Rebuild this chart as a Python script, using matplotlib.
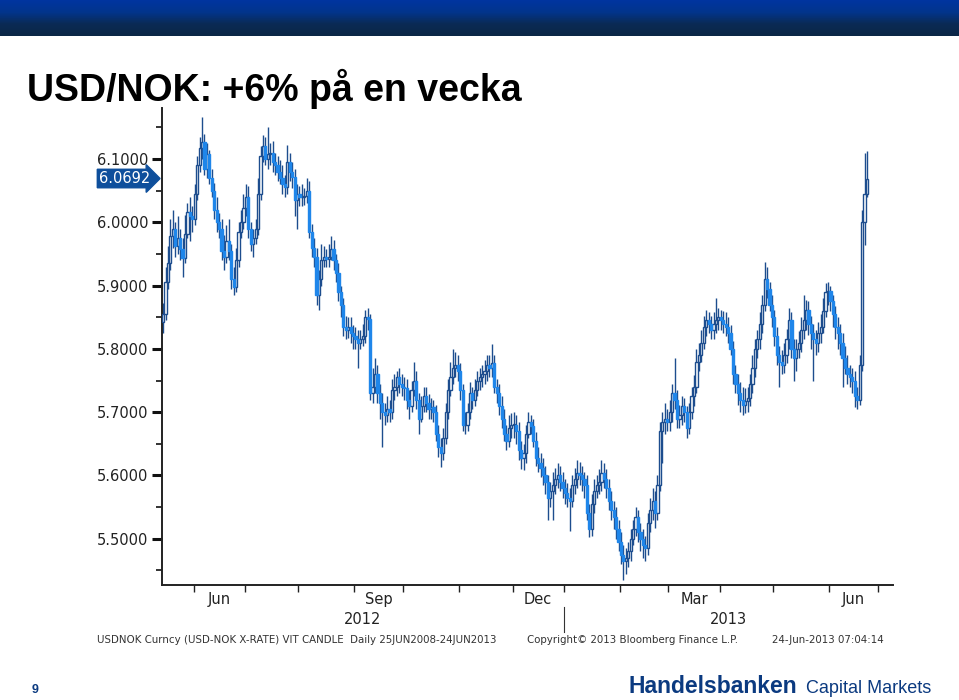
import numpy as np
import pandas as pd
import matplotlib
matplotlib.use("Agg")
import matplotlib.pyplot as plt
import matplotlib.transforms as mtrans
import matplotlib.ticker as mtick
from matplotlib.colors import LinearSegmentedColormap

# daily USD/NOK candles, 15 May 2012 .. 24 Jun 2013 (business days)
start_date = "2012-05-15"

open_ = [
    5.842, 5.855, 5.905, 5.935, 5.978, 5.990, 5.962, 5.975, 5.958, 5.944,
    5.982, 6.016, 6.010, 6.005, 6.045, 6.090, 6.117, 6.127, 6.085, 6.108,
    6.070, 6.050, 6.020, 6.000, 5.990, 5.955, 5.945, 5.970, 5.955, 5.910,
    5.898, 5.940, 5.985, 6.000, 6.023, 6.040, 5.990, 5.965, 5.975, 5.990,
    6.045, 6.105, 6.120, 6.100, 6.108, 6.110, 6.095, 6.090, 6.080, 6.070,
    6.060, 6.056, 6.095, 6.080, 6.072, 6.035, 6.045, 6.040, 6.040, 6.042,
    6.050, 5.985, 5.960, 5.945, 5.885, 5.910, 5.940, 5.945, 5.942, 5.945,
    5.958, 5.940, 5.920, 5.890, 5.870, 5.835, 5.830, 5.835, 5.825, 5.820,
    5.815, 5.810, 5.815, 5.820, 5.850, 5.848, 5.730, 5.740, 5.760, 5.730,
    5.715, 5.700, 5.695, 5.705, 5.700, 5.735, 5.740, 5.755, 5.745, 5.740,
    5.738, 5.720, 5.710, 5.735, 5.750, 5.720, 5.690, 5.710, 5.725, 5.715,
    5.705, 5.708, 5.700, 5.665, 5.645, 5.635, 5.660, 5.700, 5.735, 5.755,
    5.770, 5.775, 5.765, 5.735, 5.680, 5.680, 5.700, 5.730, 5.720, 5.735,
    5.750, 5.755, 5.760, 5.765, 5.775, 5.770, 5.778, 5.740, 5.730, 5.710,
    5.690, 5.665, 5.655, 5.675, 5.680, 5.680, 5.670, 5.640, 5.628, 5.635,
    5.665, 5.685, 5.678, 5.655, 5.628, 5.620, 5.612, 5.600, 5.590, 5.565,
    5.575, 5.585, 5.595, 5.600, 5.590, 5.580, 5.572, 5.565, 5.560, 5.585,
    5.595, 5.604, 5.600, 5.595, 5.585, 5.540, 5.515, 5.555, 5.575, 5.585,
    5.590, 5.604, 5.595, 5.580, 5.560, 5.545, 5.535, 5.515, 5.495, 5.475,
    5.465, 5.470, 5.480, 5.500, 5.515, 5.535, 5.510, 5.500, 5.490, 5.485,
    5.525, 5.545, 5.560, 5.540, 5.585, 5.670, 5.685, 5.690, 5.685, 5.700,
    5.730, 5.720, 5.690, 5.695, 5.710, 5.700, 5.675, 5.700, 5.725, 5.740,
    5.780, 5.790, 5.810, 5.835, 5.845, 5.840, 5.830, 5.840, 5.845, 5.850,
    5.845, 5.840, 5.835, 5.825, 5.800, 5.760, 5.745, 5.730, 5.720, 5.712,
    5.718, 5.722, 5.745, 5.770, 5.800, 5.815, 5.840, 5.870, 5.910, 5.895,
    5.870, 5.850, 5.820, 5.790, 5.780, 5.775, 5.790, 5.815, 5.845, 5.800,
    5.785, 5.800, 5.810, 5.830, 5.845, 5.862, 5.840, 5.825, 5.815, 5.810,
    5.825, 5.835, 5.860, 5.890, 5.892, 5.875, 5.855, 5.835, 5.825, 5.810,
    5.785, 5.770, 5.760, 5.755, 5.750, 5.725, 5.720, 5.775, 6.000, 6.045,
]
high = [
    5.872, 5.930, 5.962, 6.005, 6.020, 6.000, 6.010, 5.990, 5.975, 6.012,
    6.030, 6.040, 6.025, 6.060, 6.105, 6.135, 6.166, 6.140, 6.125, 6.115,
    6.085, 6.062, 6.040, 6.015, 6.005, 5.980, 5.995, 6.005, 5.965, 5.930,
    5.960, 6.000, 6.020, 6.045, 6.060, 6.058, 6.000, 5.990, 6.005, 6.070,
    6.120, 6.138, 6.135, 6.150, 6.125, 6.128, 6.110, 6.105, 6.098, 6.090,
    6.075, 6.122, 6.110, 6.095, 6.085, 6.060, 6.058, 6.060, 6.055, 6.070,
    6.065, 5.998, 5.975, 5.960, 5.925, 5.965, 5.962, 5.958, 5.965, 5.978,
    5.972, 5.950, 5.935, 5.900, 5.880, 5.852, 5.850, 5.850, 5.838, 5.835,
    5.830, 5.830, 5.840, 5.862, 5.865, 5.855, 5.770, 5.785, 5.775, 5.745,
    5.730, 5.715, 5.725, 5.720, 5.752, 5.760, 5.765, 5.770, 5.760, 5.755,
    5.752, 5.735, 5.750, 5.780, 5.765, 5.730, 5.725, 5.740, 5.740, 5.728,
    5.722, 5.720, 5.712, 5.680, 5.660, 5.675, 5.715, 5.752, 5.780, 5.800,
    5.795, 5.790, 5.778, 5.745, 5.700, 5.715, 5.748, 5.740, 5.752, 5.765,
    5.770, 5.775, 5.782, 5.790, 5.790, 5.808, 5.790, 5.752, 5.745, 5.725,
    5.705, 5.680, 5.695, 5.698, 5.700, 5.695, 5.685, 5.655, 5.650, 5.680,
    5.700, 5.695, 5.690, 5.668, 5.645, 5.635, 5.628, 5.615, 5.600, 5.590,
    5.605, 5.612, 5.620, 5.615, 5.605, 5.595, 5.588, 5.580, 5.600, 5.612,
    5.625, 5.622, 5.615, 5.605, 5.600, 5.555, 5.570, 5.595, 5.600, 5.610,
    5.625, 5.620, 5.610, 5.595, 5.575, 5.560, 5.550, 5.530, 5.510, 5.490,
    5.485, 5.495, 5.515, 5.530, 5.550, 5.545, 5.525, 5.515, 5.505, 5.540,
    5.565, 5.580, 5.575, 5.600, 5.685, 5.700, 5.715, 5.705, 5.720, 5.745,
    5.785, 5.735, 5.712, 5.725, 5.722, 5.710, 5.715, 5.740, 5.758, 5.800,
    5.810, 5.830, 5.852, 5.862, 5.858, 5.852, 5.858, 5.880, 5.865, 5.862,
    5.860, 5.858, 5.850, 5.838, 5.812, 5.775, 5.760, 5.748, 5.740, 5.738,
    5.740, 5.760, 5.790, 5.815, 5.830, 5.858, 5.885, 5.937, 5.930, 5.905,
    5.885, 5.862, 5.835, 5.805, 5.798, 5.810, 5.832, 5.865, 5.858, 5.815,
    5.815, 5.828, 5.850, 5.885, 5.878, 5.875, 5.852, 5.840, 5.830, 5.842,
    5.855, 5.880, 5.904, 5.905, 5.900, 5.885, 5.868, 5.850, 5.840, 5.825,
    5.805, 5.790, 5.775, 5.770, 5.765, 5.740, 5.790, 6.020, 6.110, 6.112,
]
low = [
    5.825, 5.845, 5.895, 5.925, 5.960, 5.945, 5.950, 5.940, 5.914, 5.935,
    5.975, 5.970, 5.985, 5.995, 6.035, 6.080, 6.100, 6.075, 6.070, 6.060,
    6.040, 6.005, 5.985, 5.975, 5.940, 5.925, 5.935, 5.940, 5.895, 5.885,
    5.890, 5.930, 5.975, 5.990, 6.010, 5.975, 5.955, 5.945, 5.965, 5.980,
    6.035, 6.095, 6.090, 6.085, 6.090, 6.080, 6.075, 6.065, 6.060, 6.045,
    6.040, 6.045, 6.065, 6.055, 6.010, 5.990, 6.025, 6.025, 6.028, 6.030,
    5.975, 5.945, 5.930, 5.870, 5.862, 5.900, 5.930, 5.930, 5.930, 5.940,
    5.925, 5.905, 5.875, 5.850, 5.820, 5.815, 5.818, 5.810, 5.800, 5.800,
    5.770, 5.800, 5.805, 5.810, 5.830, 5.720, 5.715, 5.730, 5.715, 5.690,
    5.645, 5.680, 5.685, 5.685, 5.690, 5.720, 5.725, 5.730, 5.725, 5.720,
    5.705, 5.690, 5.700, 5.725, 5.705, 5.665, 5.685, 5.700, 5.700, 5.690,
    5.690, 5.685, 5.655, 5.630, 5.613, 5.625, 5.650, 5.690, 5.725, 5.745,
    5.755, 5.750, 5.720, 5.670, 5.665, 5.670, 5.690, 5.705, 5.710, 5.725,
    5.735, 5.740, 5.745, 5.750, 5.755, 5.755, 5.730, 5.715, 5.695, 5.675,
    5.655, 5.640, 5.645, 5.660, 5.660, 5.650, 5.625, 5.610, 5.609, 5.620,
    5.660, 5.665, 5.645, 5.615, 5.605, 5.598, 5.585, 5.570, 5.530, 5.550,
    5.530, 5.570, 5.580, 5.575, 5.565, 5.555, 5.550, 5.512, 5.550, 5.570,
    5.580, 5.585, 5.575, 5.565, 5.530, 5.503, 5.505, 5.540, 5.565, 5.570,
    5.575, 5.580, 5.565, 5.545, 5.530, 5.515, 5.500, 5.480, 5.460, 5.435,
    5.445, 5.455, 5.465, 5.490, 5.505, 5.495, 5.480, 5.470, 5.465, 5.475,
    5.510, 5.530, 5.517, 5.530, 5.575, 5.620, 5.665, 5.670, 5.670, 5.685,
    5.705, 5.675, 5.675, 5.680, 5.685, 5.660, 5.665, 5.690, 5.710, 5.730,
    5.765, 5.780, 5.800, 5.820, 5.825, 5.815, 5.815, 5.825, 5.830, 5.830,
    5.825, 5.820, 5.810, 5.790, 5.745, 5.730, 5.712, 5.700, 5.695, 5.698,
    5.700, 5.710, 5.730, 5.755, 5.785, 5.800, 5.825, 5.860, 5.880, 5.860,
    5.835, 5.805, 5.775, 5.740, 5.760, 5.762, 5.778, 5.800, 5.785, 5.750,
    5.765, 5.785, 5.795, 5.815, 5.830, 5.822, 5.800, 5.750, 5.790, 5.795,
    5.810, 5.825, 5.850, 5.870, 5.860, 5.835, 5.815, 5.800, 5.790, 5.740,
    5.760, 5.745, 5.740, 5.730, 5.708, 5.705, 5.712, 5.765, 5.964, 6.040,
]
close = [
    5.855, 5.905, 5.935, 5.978, 5.990, 5.962, 5.975, 5.958, 5.944, 5.982,
    6.016, 6.010, 6.005, 6.045, 6.090, 6.117, 6.127, 6.085, 6.108, 6.070,
    6.050, 6.020, 6.000, 5.990, 5.955, 5.945, 5.970, 5.955, 5.910, 5.898,
    5.940, 5.985, 6.000, 6.023, 6.040, 5.990, 5.965, 5.975, 5.990, 6.045,
    6.105, 6.120, 6.100, 6.108, 6.110, 6.095, 6.090, 6.080, 6.070, 6.060,
    6.056, 6.095, 6.080, 6.072, 6.035, 6.045, 6.040, 6.040, 6.042, 6.050,
    5.985, 5.960, 5.945, 5.885, 5.910, 5.940, 5.945, 5.942, 5.945, 5.958,
    5.940, 5.920, 5.890, 5.870, 5.835, 5.830, 5.835, 5.825, 5.820, 5.815,
    5.810, 5.815, 5.820, 5.850, 5.848, 5.730, 5.740, 5.760, 5.730, 5.715,
    5.700, 5.695, 5.705, 5.700, 5.735, 5.740, 5.755, 5.745, 5.740, 5.738,
    5.720, 5.710, 5.735, 5.750, 5.720, 5.690, 5.710, 5.725, 5.715, 5.705,
    5.708, 5.700, 5.665, 5.645, 5.635, 5.660, 5.700, 5.735, 5.755, 5.770,
    5.775, 5.765, 5.735, 5.680, 5.680, 5.700, 5.730, 5.720, 5.735, 5.750,
    5.755, 5.760, 5.765, 5.775, 5.770, 5.778, 5.740, 5.730, 5.710, 5.690,
    5.665, 5.655, 5.675, 5.680, 5.680, 5.670, 5.640, 5.628, 5.635, 5.665,
    5.685, 5.678, 5.655, 5.628, 5.620, 5.612, 5.600, 5.590, 5.565, 5.575,
    5.585, 5.595, 5.600, 5.590, 5.580, 5.572, 5.565, 5.560, 5.585, 5.595,
    5.604, 5.600, 5.595, 5.585, 5.540, 5.515, 5.555, 5.575, 5.585, 5.590,
    5.604, 5.595, 5.580, 5.560, 5.545, 5.535, 5.515, 5.495, 5.475, 5.465,
    5.470, 5.480, 5.500, 5.515, 5.535, 5.510, 5.500, 5.490, 5.485, 5.525,
    5.545, 5.560, 5.540, 5.585, 5.670, 5.685, 5.690, 5.685, 5.700, 5.730,
    5.720, 5.690, 5.695, 5.710, 5.700, 5.675, 5.700, 5.725, 5.740, 5.780,
    5.790, 5.810, 5.835, 5.845, 5.840, 5.830, 5.840, 5.845, 5.850, 5.845,
    5.840, 5.835, 5.825, 5.800, 5.760, 5.745, 5.730, 5.720, 5.712, 5.718,
    5.722, 5.745, 5.770, 5.800, 5.815, 5.840, 5.870, 5.910, 5.895, 5.870,
    5.850, 5.820, 5.790, 5.780, 5.775, 5.790, 5.815, 5.845, 5.800, 5.785,
    5.800, 5.810, 5.830, 5.845, 5.862, 5.840, 5.825, 5.815, 5.810, 5.825,
    5.835, 5.860, 5.890, 5.892, 5.875, 5.855, 5.835, 5.825, 5.810, 5.785,
    5.770, 5.760, 5.755, 5.750, 5.725, 5.720, 5.775, 6.000, 6.045, 6.069,
]

last_price = 6.0692
y_ticks = [5.5, 5.6, 5.7, 5.8, 5.9, 6.0, 6.1]
month_labels = [(2012, 6, "Jun"), (2012, 9, "Sep"), (2012, 12, "Dec"),
                (2013, 3, "Mar"), (2013, 6, "Jun")]
year_labels = ["2012", "2013"]

title = "USD/NOK: +6% på en vecka"
footer_left = "USDNOK Curncy (USD-NOK X-RATE) VIT CANDLE  Daily 25JUN2008-24JUN2013"
footer_mid = "Copyright\u00a9 2013 Bloomberg Finance L.P."
footer_right = "24-Jun-2013 07:04:14"

DARK = "#1d4d8e"
BRIGHT = "#1f86ea"
NAVY = "#0b3a80"

W, H = 959, 700
fig = plt.figure(figsize=(W / 100, H / 100), dpi=100)
fig.patch.set_facecolor("white")

# banner on top
band = fig.add_axes([0, 1 - 36 / H, 1, 36 / H])
cmap = LinearSegmentedColormap.from_list("band", ["#0034a0", "#02358c", "#0a2a55", "#0c2746"])
band.imshow(np.linspace(0, 1, 64).reshape(-1, 1), aspect="auto", cmap=cmap,
            extent=[0, 1, 0, 1])
band.axis("off")

fig.text(27 / W, 1 - 101 / H, title, fontsize=27, fontweight="bold",
         family="Liberation Sans", va="baseline", ha="left", color="black")

# chart area
ax = fig.add_axes([162 / W, (H - 585) / H, (893 - 162) / W, (585 - 108) / H])
o, h, l, c = map(np.asarray, (open_, high, low, close))
x = np.arange(len(c))
up = c >= o

ax.vlines(x, l, h, color=DARK, lw=1.0, zorder=2)
ax.bar(x[up], np.maximum(c - o, 0.002)[up], bottom=o[up], width=0.9,
       facecolor="white", edgecolor=DARK, linewidth=1.0, zorder=3)
ax.bar(x[~up], (o - c)[~up], bottom=c[~up], width=0.9,
       facecolor=BRIGHT, edgecolor=BRIGHT, linewidth=1.0, zorder=3)

ax.set_xlim(-0.45, 299.7)
ax.set_ylim(5.427, 6.1806)
for s in ("top", "right"):
    ax.spines[s].set_visible(False)
for s in ("left", "bottom"):
    ax.spines[s].set_color("#222222")
    ax.spines[s].set_linewidth(1.4)

ax.set_yticks(y_ticks)
ax.set_yticklabels([f"{v:.4f}" for v in y_ticks])
ax.yaxis.set_minor_locator(mtick.MultipleLocator(0.05))
ax.tick_params(axis="y", which="major", direction="out", length=7, width=2.2,
               color="#111111", labelsize=10.5, labelcolor="#222222", pad=3)
ax.tick_params(axis="y", which="minor", direction="out", length=4, width=1.2,
               color="#111111")

# trading-day calendar for the x axis
days = pd.bdate_range(start_date, periods=len(c) + 11)
new_month = np.r_[False, days.month[1:] != days.month[:-1]]
month_starts = np.where(new_month)[0]
ax.set_xticks(month_starts - 0.5)
ax.set_xticklabels([])
ax.tick_params(axis="x", direction="out", length=5, width=1.0, color="#222222")

blend = mtrans.blended_transform_factory(ax.transData, ax.transAxes)
for yr, mo, name in month_labels:
    idx = np.where((days.year == yr) & (days.month == mo))[0]
    ax.text((idx[0] + idx[-1]) / 2, -0.031, name, transform=blend,
            ha="center", va="center", fontsize=10.5, color="#222222")

jan1 = np.where((days.year == 2013) & (days.month == 1))[0][0] - 0.5
x0, x1 = ax.get_xlim()
ax.text((x0 + jan1) / 2, -0.073, year_labels[0], transform=blend,
        ha="center", va="center", fontsize=10.5, color="#222222")
ax.text((jan1 + x1) / 2, -0.073, year_labels[1], transform=blend,
        ha="center", va="center", fontsize=10.5, color="#222222")
ax.plot([jan1, jan1], [-0.046, -0.099], transform=blend, clip_on=False,
        color="#333333", lw=0.8)

# last price tag on the y axis
yblend = mtrans.blended_transform_factory(ax.transAxes, ax.transData)
ax.text(-0.016, last_price, f"{last_price:.4f}", transform=yblend,
        ha="right", va="center", fontsize=10.5, color="white", zorder=5,
        bbox=dict(boxstyle="rarrow,pad=0.12", fc="#0e4f9c", ec="#0e4f9c"))

# footer
fy = 1 - 640 / H
fig.text(97 / W, fy, footer_left, fontsize=7.4, va="center", color="#333333")
fig.text(527 / W, fy, footer_mid, fontsize=7.4, va="center", color="#333333")
fig.text(772 / W, fy, footer_right, fontsize=7.4, va="center", color="#333333")

fig.text(32 / W, 1 - 693 / H, "9", fontsize=9, fontweight="bold",
         family="Liberation Sans", color=NAVY, va="baseline")
fig.text(628 / W, 1 - 693 / H, "Handelsbanken", fontsize=16.5,
         fontweight="bold", family="Liberation Sans", color=NAVY,
         va="baseline")
fig.text(806 / W, 1 - 693 / H, "Capital Markets", fontsize=13,
         family="Liberation Sans", color=NAVY, va="baseline")

fig.savefig("out.png", dpi=100)
